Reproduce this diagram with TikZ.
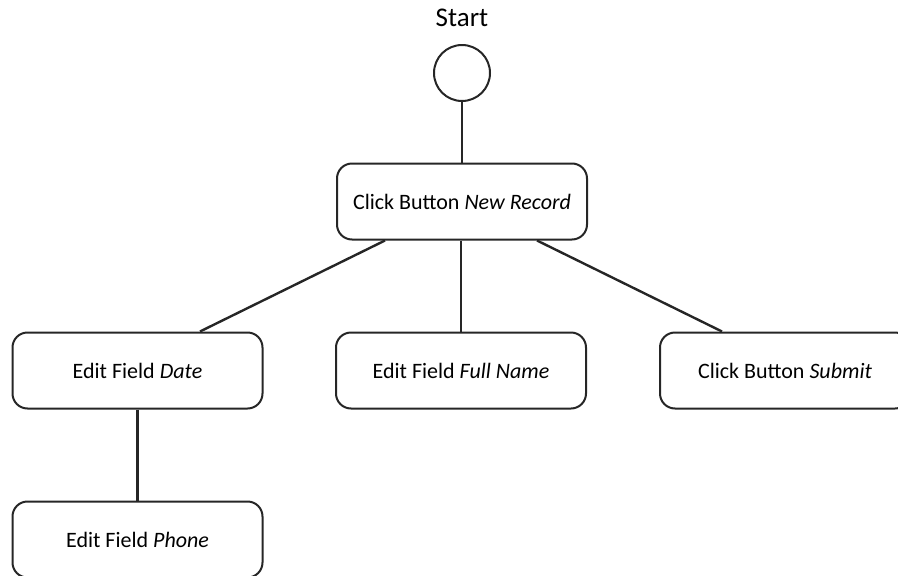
\documentclass[tikz,border=0pt]{standalone}
\usepackage{fontspec}
\setmainfont{Carlito}
\begin{document}
\begin{tikzpicture}[x=1pt,y=-1pt,
  stepbox/.style={draw=black!85, line width=2pt, rounded corners=15pt,
    minimum width=250pt, minimum height=76pt, inner sep=0pt,
    font=\fontsize{22}{26}\selectfont},
  startdot/.style={draw=black!85, line width=2pt, circle, minimum size=56pt, inner sep=0pt},
  link/.style={line width=2.4pt, black!85}]
\useasboundingbox (0,0) rectangle (898,576);
\clip (0,0) rectangle (898,576);
% start label and initial state
\node[font=\fontsize{27}{32}\selectfont] (startlbl) at (462,18) {Start};
\node[startdot] (start) at (462,73) {};
% action boxes
\node[stepbox] (rec)   at (462,201.5) {Click Button \textit{New Record}};
\node[stepbox] (date)  at (137.5,370.5) {Edit Field \textit{Date}};
\node[stepbox] (name)  at (461,370.5) {Edit Field \textit{Full Name}};
\node[stepbox] (sub)   at (785,370.5) {Click Button \textit{Submit}};
\node[stepbox] (phone) at (137.5,539.5) {Edit Field \textit{Phone}};
% connectors
\draw[link] (start) -- (rec);
\draw[link] ([xshift=-77pt]rec.south) -- ([xshift=62.5pt]date.north);
\draw[link] (rec.south -| name.north) -- (name.north);
\draw[link] ([xshift=75pt]rec.south) -- ([xshift=-63pt]sub.north);
\draw[link] (date) -- (phone);
\end{tikzpicture}
\end{document}
